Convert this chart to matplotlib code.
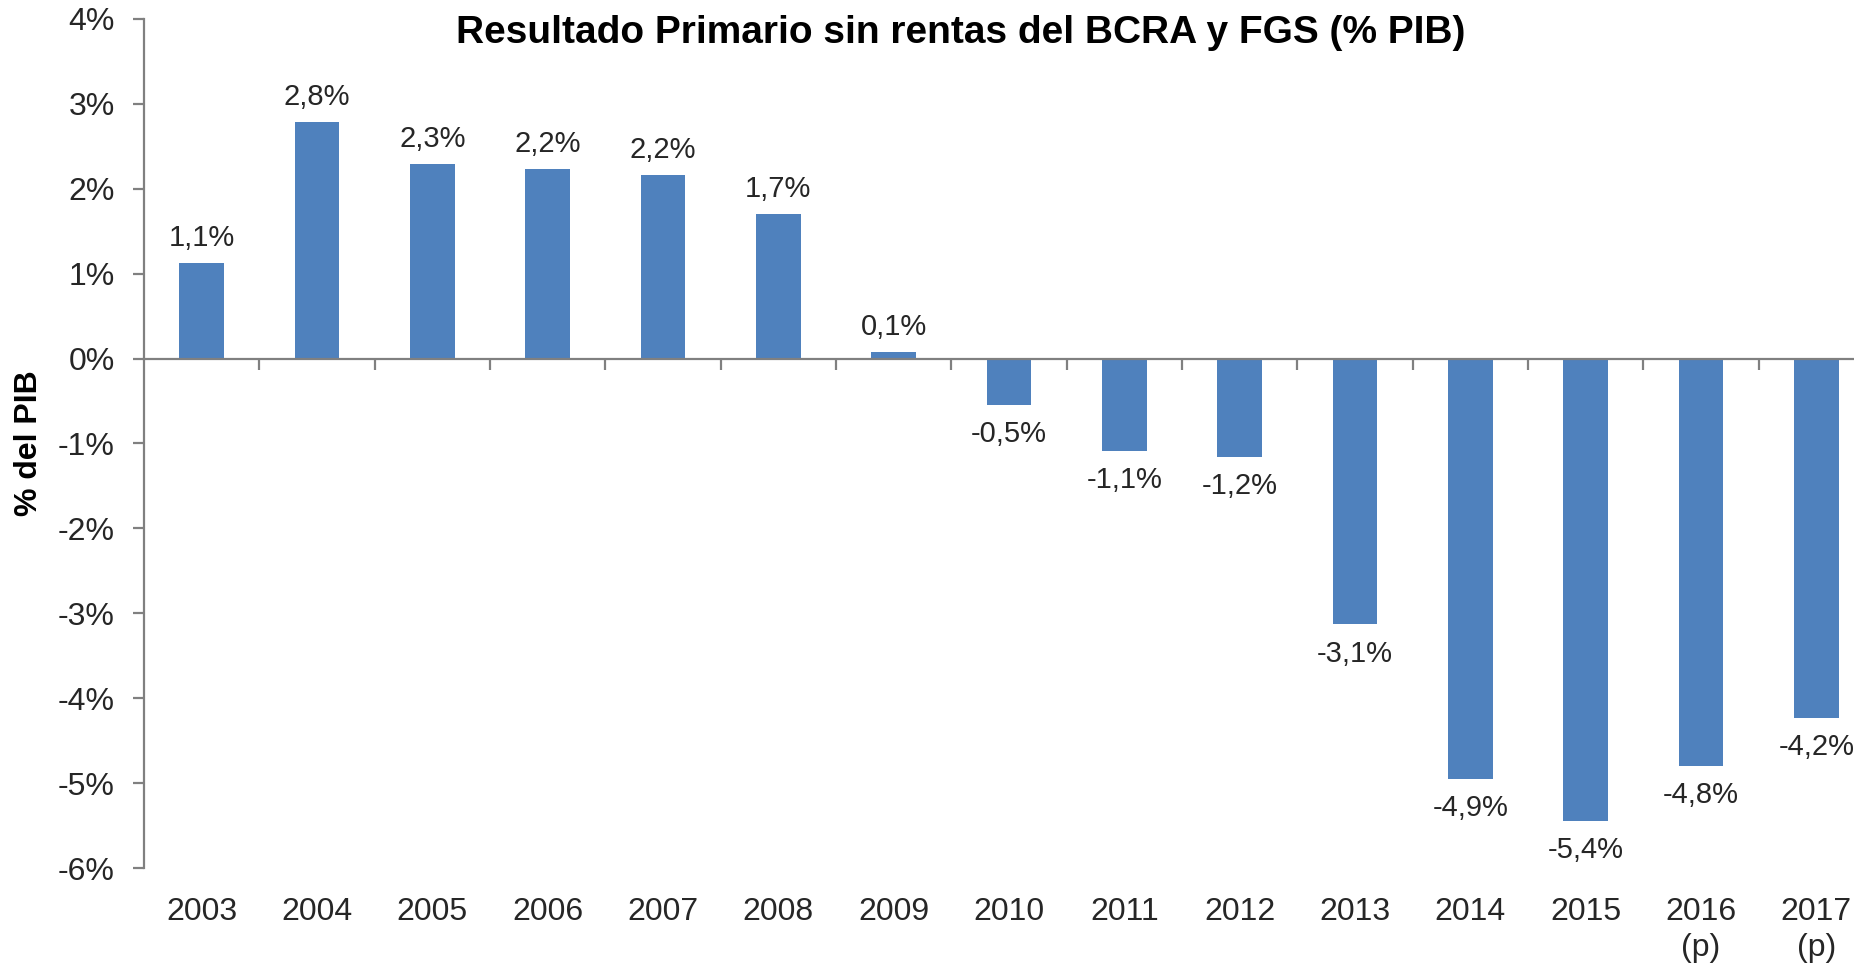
import matplotlib
matplotlib.use("Agg")
import matplotlib.pyplot as plt
import matplotlib.transforms as mtransforms

plt.rcParams['font.family'] = ['Liberation Sans', 'DejaVu Sans']

years = ['2003', '2004', '2005', '2006', '2007', '2008', '2009', '2010',
         '2011', '2012', '2013', '2014', '2015', '2016\n(p)', '2017\n(p)']
valores = [1.13, 2.79, 2.29, 2.23, 2.16, 1.70, 0.08, -0.55,
           -1.09, -1.16, -3.13, -4.95, -5.45, -4.80, -4.23]
etiquetas = ['1,1%', '2,8%', '2,3%', '2,2%', '2,2%', '1,7%', '0,1%', '-0,5%',
             '-1,1%', '-1,2%', '-3,1%', '-4,9%', '-5,4%', '-4,8%', '-4,2%']
yticks = [4, 3, 2, 1, 0, -1, -2, -3, -4, -5, -6]

W, H = 1854, 966
fig = plt.figure(figsize=(W / 100, H / 100), dpi=100)
# el area del grafico se sale un poco por la derecha, como en el original
ax = fig.add_axes([144 / W, (H - 868) / H, 1730 / W, (868 - 19) / H])

gris = '#808080'
texto = '#262626'
x = range(len(years))
ax.bar(x, valores, width=0.39, color='#4F81BD', zorder=2)

ax.set_xlim(-0.5, len(years) - 0.5)
ax.set_ylim(-6, 4)

ax.spines['top'].set_visible(False)
ax.spines['right'].set_visible(False)
ax.spines['left'].set_color(gris)
ax.spines['left'].set_linewidth(1.6)
ax.spines['bottom'].set_color(gris)
ax.spines['bottom'].set_linewidth(1.6)
ax.spines['bottom'].set_position(('data', 0))
ax.spines['bottom'].set_zorder(3)

ax.set_yticks(yticks)
ax.set_yticklabels([f'{v}%' for v in yticks])
ax.tick_params(axis='y', direction='out', length=8, width=1.6, color=gris,
               pad=13, labelsize=23, labelcolor=texto)

# marcas entre categorias sobre la linea del cero, etiquetas abajo
ax.set_xticks([i + 0.5 for i in range(len(years) - 1)])
ax.set_xticklabels([])
ax.tick_params(axis='x', direction='out', length=8, width=1.6, color=gris)

trans = mtransforms.blended_transform_factory(ax.transData, ax.transAxes)
for i, lab in enumerate(years):
    ax.text(i, -0.034, lab, transform=trans, ha='center', va='top',
            fontsize=23, color=texto, linespacing=1.25)

for i, (v, lab) in enumerate(zip(valores, etiquetas)):
    off = 18 if v >= 0 else -21
    ax.annotate(lab, (i, v), xytext=(0, off), textcoords='offset points',
                ha='center', va='center', fontsize=21, color=texto)

ax.set_ylabel('% del PIB', fontsize=23, fontweight='bold', labelpad=10)

fig.text(961 / W, 1 - 33 / H, 'Resultado Primario sin rentas del BCRA y FGS (% PIB)',
         ha='center', va='center', fontsize=28, fontweight='bold')

fig.savefig('out.png', dpi=100)
